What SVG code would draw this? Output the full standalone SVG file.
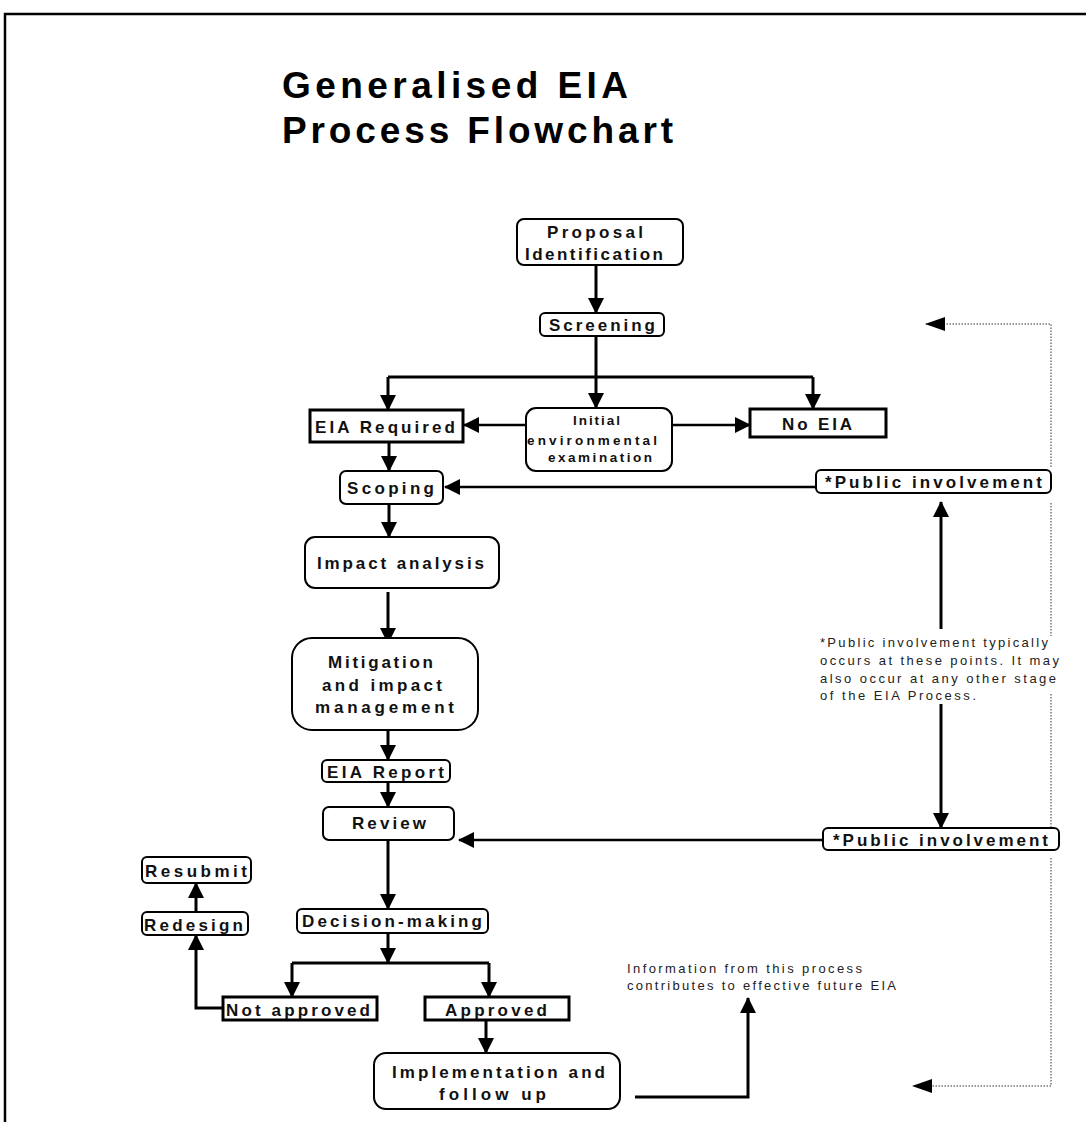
<svg xmlns="http://www.w3.org/2000/svg" width="1086" height="1122" viewBox="0 0 1086 1122">
<style>
.box{fill:#fff;stroke:#000;stroke-width:2}
.tbox{fill:#fff;stroke:#000;stroke-width:3}
.t{font-family:"Liberation Sans",Arial,sans-serif;font-weight:bold;font-size:17px;fill:#111}
.s{font-family:"Liberation Sans",Arial,sans-serif;font-weight:bold;font-size:13.5px;fill:#111}
.n{font-family:"Liberation Sans",Arial,sans-serif;font-size:13px;fill:#222}
.title{font-family:"Liberation Sans",Arial,sans-serif;font-weight:bold;font-size:37px;fill:#000}
.c{fill:none;stroke:#000;stroke-width:3;marker-end:url(#ah)}
.c2{fill:none;stroke:#000;stroke-width:2.5;marker-end:url(#ah)}
.p{fill:none;stroke:#000;stroke-width:3}
.d{fill:none;stroke:#777;stroke-width:1.5;stroke-dasharray:1.5 1.5}
.dm{fill:none;stroke:#777;stroke-width:1.5;stroke-dasharray:1.5 1.5;marker-end:url(#dh)}
</style>
<defs>
<marker id="ah" markerUnits="userSpaceOnUse" viewBox="0 0 16 16" markerWidth="16" markerHeight="16" refX="15" refY="8" orient="auto">
<path d="M0,0 L16,8 L0,16 z" fill="#000"/>
</marker>
<marker id="dh" markerUnits="userSpaceOnUse" viewBox="0 0 20 16" markerWidth="20" markerHeight="16" refX="19" refY="8" orient="auto">
<path d="M0,1 L20,8 L0,15 z" fill="#000"/>
</marker>
</defs>
<rect x="0" y="0" width="1086" height="1122" fill="#fff"/>
<rect x="5" y="14" width="1100" height="1120" fill="none" stroke="#000" stroke-width="2.5"/>

<g id="title">
<text class="title" x="282" y="98" textLength="346" lengthAdjust="spacing">Generalised EIA</text>
<text class="title" x="282" y="143" textLength="391" lengthAdjust="spacing">Process Flowchart</text>
</g>

<g id="connectors">
<path class="c" d="M596,265 V313"/>
<path class="p" d="M596,336 V377"/>
<path class="c" d="M596,377 V408"/>
<path class="p" d="M388,377 H813"/>
<path class="c" d="M388,377 V410"/>
<path class="c" d="M813,377 V409"/>
<path class="c2" d="M526,425 H464"/>
<path class="c2" d="M672,425 H750"/>
<path class="c" d="M389,442 V471"/>
<path class="c2" d="M816,487 H445"/>
<path class="c" d="M389,504 V537"/>
<path class="c" d="M388,592 V643"/>
<path class="c" d="M388,730 V760"/>
<path class="c" d="M388,782 V807"/>
<path class="c2" d="M823,840 H459"/>
<path class="c" d="M388,840 V909"/>
<path class="c" d="M388,933 V963"/>
<path class="p" d="M292,963 H489"/>
<path class="c" d="M292,963 V997"/>
<path class="c" d="M489,963 V997"/>
<path class="c" d="M223,1008 H196 V935"/>
<path class="c" d="M196,912 V883"/>
<path class="c" d="M486,1020 V1053"/>
<path class="c" d="M635,1097 H748 V998"/>
<path class="c" d="M941,629 V502"/>
<path class="c" d="M941,704 V828"/>
<path class="dm" d="M1051,467 V324 H926"/>
<path class="d" d="M1051,503 V636"/>
<path class="d" d="M1051,694 V828"/>
<path class="dm" d="M1051,858 V1086 H913"/>
</g>

<g id="proposal">
<rect class="box" x="517" y="219" width="166" height="46" rx="7"/>
<text class="t" x="547" y="238" textLength="96" lengthAdjust="spacing">Proposal</text>
<text class="t" x="525" y="260" textLength="138" lengthAdjust="spacing">Identification</text>
</g>
<g id="screening">
<rect class="box" x="540" y="313" width="124" height="23" rx="5"/>
<text class="t" x="549" y="331" textLength="106" lengthAdjust="spacing">Screening</text>
</g>
<g id="eia-required">
<rect class="tbox" x="310" y="410" width="153" height="32"/>
<text class="t" x="315" y="433" textLength="140" lengthAdjust="spacing">EIA Required</text>
</g>
<g id="initial">
<rect class="box" x="526" y="408" width="146" height="63" rx="10"/>
<text class="s" x="573" y="425" textLength="47" lengthAdjust="spacing">Initial</text>
<text class="s" x="527" y="445" textLength="130" lengthAdjust="spacing">environmental</text>
<text class="s" x="548" y="462" textLength="104" lengthAdjust="spacing">examination</text>
</g>
<g id="no-eia">
<rect class="tbox" x="750" y="409" width="136" height="28"/>
<text class="t" x="782" y="430" textLength="70" lengthAdjust="spacing">No EIA</text>
</g>
<g id="public1">
<rect class="box" x="816" y="470" width="235" height="23" rx="5"/>
<text class="t" x="825" y="488" textLength="217" lengthAdjust="spacing">*Public involvement</text>
</g>
<g id="scoping">
<rect class="box" x="340" y="471" width="103" height="33" rx="6"/>
<text class="t" x="347" y="494" textLength="87" lengthAdjust="spacing">Scoping</text>
</g>
<g id="impact">
<rect class="box" x="305" y="537" width="194" height="51" rx="10"/>
<text class="t" x="317" y="569" textLength="167" lengthAdjust="spacing">Impact analysis</text>
</g>
<g id="mitigation">
<rect class="box" x="292" y="638" width="186" height="92" rx="20"/>
<text class="t" x="328" y="668" textLength="105" lengthAdjust="spacing">Mitigation</text>
<text class="t" x="322" y="691" textLength="120" lengthAdjust="spacing">and impact</text>
<text class="t" x="315" y="713" textLength="139" lengthAdjust="spacing">management</text>
</g>
<g id="eia-report">
<rect class="box" x="322" y="760" width="128" height="22" rx="5"/>
<text class="t" x="327" y="778" textLength="117" lengthAdjust="spacing">EIA Report</text>
</g>
<g id="review">
<rect class="box" x="323" y="807" width="131" height="33" rx="6"/>
<text class="t" x="352" y="829" textLength="74" lengthAdjust="spacing">Review</text>
</g>
<g id="public2">
<rect class="box" x="823" y="828" width="236" height="22" rx="5"/>
<text class="t" x="833" y="846" textLength="215" lengthAdjust="spacing">*Public involvement</text>
</g>
<g id="note1">
<text class="n" x="820" y="647" textLength="228" lengthAdjust="spacing">*Public involvement typically</text>
<text class="n" x="820" y="665" textLength="239" lengthAdjust="spacing">occurs at these points. It may</text>
<text class="n" x="820" y="683" textLength="236" lengthAdjust="spacing">also occur at any other stage</text>
<text class="n" x="820" y="700" textLength="156" lengthAdjust="spacing">of the EIA Process.</text>
</g>
<g id="resubmit">
<rect class="box" x="142" y="857" width="109" height="26" rx="5"/>
<text class="t" x="145" y="877" textLength="102" lengthAdjust="spacing">Resubmit</text>
</g>
<g id="redesign">
<rect class="box" x="142" y="912" width="106" height="23" rx="5"/>
<text class="t" x="144" y="931" textLength="99" lengthAdjust="spacing">Redesign</text>
</g>
<g id="decision">
<rect class="box" x="297" y="909" width="191" height="24" rx="5"/>
<text class="t" x="302" y="927" textLength="180" lengthAdjust="spacing">Decision-making</text>
</g>
<g id="not-approved">
<rect class="tbox" x="223" y="997" width="154" height="23"/>
<text class="t" x="226" y="1016" textLength="144" lengthAdjust="spacing">Not approved</text>
</g>
<g id="approved">
<rect class="tbox" x="425" y="997" width="144" height="23"/>
<text class="t" x="445" y="1016" textLength="102" lengthAdjust="spacing">Approved</text>
</g>
<g id="implementation">
<rect class="box" x="374" y="1053" width="246" height="56" rx="12"/>
<text class="t" x="392" y="1078" textLength="213" lengthAdjust="spacing">Implementation and</text>
<text class="t" x="439" y="1100" textLength="107" lengthAdjust="spacing">follow up</text>
</g>
<g id="note2">
<text class="n" x="627" y="973" textLength="235" lengthAdjust="spacing">Information from this process</text>
<text class="n" x="627" y="990" textLength="269" lengthAdjust="spacing">contributes to effective future EIA</text>
</g>
</svg>
